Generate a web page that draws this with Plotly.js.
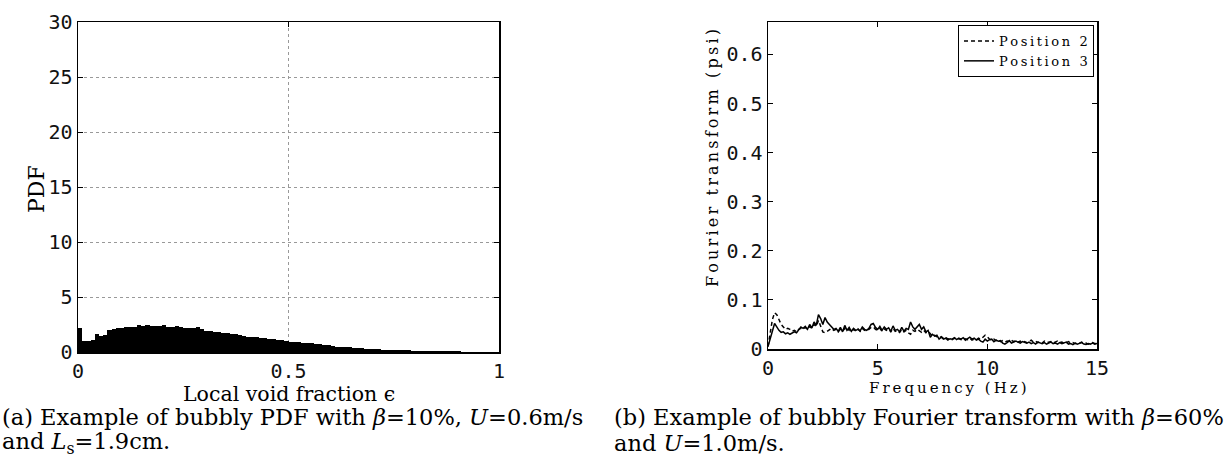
<!DOCTYPE html>
<html><head><meta charset="utf-8">
<script src="https://cdn.plot.ly/plotly-3.0.1.min.js"></script>
<style>html,body{margin:0;padding:0;background:#fff}#c{width:1227px;height:463px}</style>
</head><body><div id="c"></div>
<script>
// ---- Data: (a) histogram of local void fraction (100 bins on [0,1]) ----
const binWidth = 0.01;
const pdfValues = [
  2.2, 1.0, 1.0, 1.1, 1.65, 1.5, 1.55, 2.0, 2.1, 2.15,
  2.2, 2.25, 2.3, 2.3, 2.5, 2.35, 2.45, 2.35, 2.4, 2.35,
  2.45, 2.3, 2.3, 2.35, 2.25, 2.2, 2.2, 2.15, 2.3, 2.05,
  1.95, 1.9, 1.85, 1.8, 1.75, 1.7, 1.65, 1.6, 1.55, 1.5,
  1.4, 1.4, 1.35, 1.3, 1.25, 1.2, 1.15, 1.1, 1.05, 1.0,
  0.95, 0.95, 0.9, 0.85, 0.85, 0.8, 0.75, 0.7, 0.65, 0.6,
  0.55, 0.5, 0.48, 0.45, 0.42, 0.4, 0.36, 0.33, 0.3, 0.28,
  0.26, 0.24, 0.22, 0.2, 0.19, 0.18, 0.16, 0.15, 0.14, 0.13,
  0.12, 0.11, 0.1, 0.09, 0.085, 0.08, 0.07, 0.065, 0.06, 0.055,
  0.05, 0.045, 0.04, 0.04, 0.035, 0.03, 0.03, 0.025, 0.02, 0.02
];
const pdfTickVals = [0, 0.5, 1];
const pdfTickText = ["0", "0.5", "1"];

// ---- Data: (b) Fourier transform, 0..15 Hz every 0.1 Hz ----
const freqStep = 0.1;
const position2 = [
  0.005,0.03,0.06,0.074,0.07,0.06,0.05,0.045,0.04,0.042,
  0.04,0.036,0.038,0.035,0.04,0.042,0.04,0.044,0.04,0.046,
  0.042,0.05,0.046,0.058,0.045,0.035,0.033,0.036,0.04,0.042,
  0.038,0.04,0.035,0.04,0.036,0.042,0.037,0.04,0.035,0.04,
  0.037,0.041,0.036,0.042,0.038,0.037,0.04,0.044,0.045,0.04,
  0.038,0.042,0.036,0.041,0.038,0.04,0.035,0.042,0.036,0.038,
  0.034,0.04,0.035,0.038,0.033,0.03,0.038,0.036,0.04,0.036,
  0.034,0.038,0.033,0.036,0.03,0.026,0.028,0.025,0.022,0.025,
  0.022,0.024,0.02,0.022,0.019,0.022,0.02,0.021,0.019,0.022,
  0.02,0.019,0.022,0.018,0.02,0.019,0.022,0.02,0.024,0.028,
  0.025,0.02,0.018,0.02,0.017,0.019,0.015,0.017,0.014,0.016,
  0.015,0.018,0.015,0.017,0.014,0.016,0.013,0.015,0.013,0.016,
  0.018,0.014,0.016,0.013,0.015,0.012,0.016,0.013,0.014,0.015,
  0.012,0.014,0.016,0.013,0.014,0.011,0.013,0.015,0.012,0.013,
  0.011,0.013,0.012,0.014,0.011,0.012,0.01,0.012,0.013,0.011,
  0.012
];
const position3 = [
  0.005,0.02,0.04,0.052,0.045,0.038,0.034,0.035,0.031,0.033,
  0.03,0.032,0.035,0.033,0.038,0.045,0.042,0.046,0.04,0.05,
  0.043,0.055,0.048,0.07,0.062,0.05,0.064,0.055,0.05,0.045,
  0.04,0.042,0.036,0.044,0.035,0.048,0.038,0.044,0.036,0.042,
  0.038,0.04,0.037,0.045,0.04,0.038,0.042,0.05,0.052,0.044,
  0.04,0.046,0.038,0.045,0.04,0.043,0.036,0.047,0.038,0.04,
  0.035,0.044,0.036,0.042,0.04,0.055,0.045,0.04,0.046,0.05,
  0.04,0.045,0.035,0.038,0.024,0.03,0.026,0.028,0.02,0.024,
  0.02,0.022,0.018,0.021,0.02,0.023,0.019,0.022,0.02,0.023,
  0.018,0.021,0.024,0.02,0.022,0.018,0.02,0.016,0.014,0.02,
  0.016,0.019,0.02,0.015,0.018,0.016,0.017,0.012,0.01,0.013,
  0.017,0.012,0.014,0.016,0.014,0.012,0.015,0.013,0.012,0.014,
  0.011,0.013,0.01,0.014,0.012,0.011,0.013,0.01,0.012,0.014,
  0.011,0.012,0.01,0.013,0.011,0.012,0.014,0.01,0.011,0.009,
  0.012,0.01,0.011,0.013,0.01,0.009,0.011,0.01,0.012,0.01,
  0.011
];
const seriesNames = ["Position 2", "Position 3"];
const freqTickVals = [0, 5, 10, 15];

// ---- Build ----
const sp = s => s.split("").join("\u2009");
const binCenters = pdfValues.map((_, i) => (i + 0.5) * binWidth);
const freqs = position2.map((_, i) => +(i * freqStep).toFixed(2));

const tickFont = {family: "DejaVu Sans Mono", size: 20, color: "#111"};
const serif = "DejaVu Serif";

const traces = [
  {type: "bar", x: binCenters, y: pdfValues, width: binWidth,
   marker: {color: "#000", line: {width: 0}}, xaxis: "x", yaxis: "y", showlegend: false},
  {type: "scatter", mode: "lines", x: freqs, y: position2, name: sp(seriesNames[0]),
   line: {color: "#000", width: 1.5, dash: "4px,3px"}, xaxis: "x2", yaxis: "y2"},
  {type: "scatter", mode: "lines", x: freqs, y: position3, name: sp(seriesNames[1]),
   line: {color: "#000", width: 1.5}, xaxis: "x2", yaxis: "y2"}
];

const axBase = {showline: true, linecolor: "#000", linewidth: 1.5, mirror: "ticks",
  ticks: "inside", ticklen: 5, tickcolor: "#000", zeroline: false, tickfont: tickFont};

const W = 1227, H = 463;
const ann = (text, x, y, size, extra) => Object.assign({
  text: text, xref: "paper", yref: "paper", x: x / W, y: 1 - y / H,
  xanchor: "center", yanchor: "middle", showarrow: false,
  font: {family: serif, size: size, color: "#000"}}, extra || {});

const layout = {
  width: W, height: H, margin: {l: 0, r: 0, t: 0, b: 0},
  paper_bgcolor: "#fff", plot_bgcolor: "#fff", bargap: 0,
  xaxis: Object.assign({}, axBase, {domain: [78/W, 499/W], range: [0, 1], anchor: "y",
    tickvals: pdfTickVals, ticktext: pdfTickText, showgrid: true,
    gridcolor: "#999", griddash: "dot", gridwidth: 1, ticklabelstandoff: 0}),
  yaxis: Object.assign({}, axBase, {domain: [1 - 352/H, 1 - 22/H], range: [0, 30], anchor: "x",
    dtick: 5, showgrid: true, gridcolor: "#999", griddash: "dot", gridwidth: 1, ticklabelstandoff: 0}),
  xaxis2: Object.assign({}, axBase, {domain: [768/W, 1097/W], range: [0, 15], anchor: "y2",
    tickvals: freqTickVals, showgrid: false, ticklabelstandoff: 0}),
  yaxis2: Object.assign({}, axBase, {domain: [1 - 349/H, 1 - 22/H], range: [0, 0.666], anchor: "x2",
    dtick: 0.1, showgrid: false, ticklabelstandoff: 0}),
  showlegend: true,
  legend: {x: 1094/W, xanchor: "right", y: 1 - 25/H, yanchor: "top",
    bordercolor: "#000", borderwidth: 1, bgcolor: "#fff",
    font: {family: serif, size: 13, color: "#000"}, tracegroupgap: 0, itemwidth: 30},
  annotations: [
    ann("PDF", 36, 189, 22, {textangle: -90}),
    ann("Local void fraction \u03f5", 289, 394, 20.5),
    ann(sp("Fourier transform (psi)"), 712, 158, 16, {textangle: -90}),
    ann(sp("Frequency (Hz)"), 948, 388, 15),
    ann("(a) Example of bubbly PDF with <i>\u03b2</i>=10%, <i>U</i>=0.6m/s", 0, 417, 22.5, {xanchor: "left"}),
    ann("and <i>L</i><sub>s</sub>=1.9cm.", 0, 443, 22.5, {xanchor: "left"}),
    ann("(b) Example of bubbly Fourier transform with <i>\u03b2</i>=60%", 612, 417, 22.5, {xanchor: "left"}),
    ann("and <i>U</i>=1.0m/s.", 612, 443, 22.5, {xanchor: "left"})
  ]
};

Plotly.newPlot("c", traces, layout, {staticPlot: true, displayModeBar: false});
</script>
</body></html>
